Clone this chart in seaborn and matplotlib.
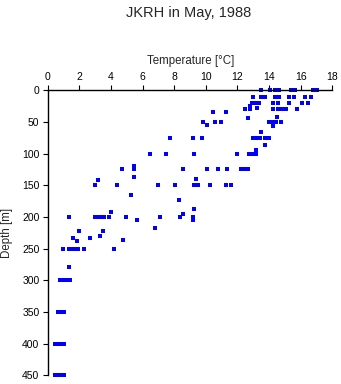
import numpy as np
import pandas as pd
import matplotlib
matplotlib.use("Agg")
import matplotlib.pyplot as plt
import seaborn as sns

# Depth levels [m] and the temperatures [°C] observed at each level
depth_levels = [0, 10, 20, 24, 28, 30, 35, 42, 43, 50, 54, 57, 66, 75, 87, 94, 100,
                119, 125, 137, 140, 142, 150, 165, 173, 187, 192, 195, 200, 203, 205,
                217, 222, 230, 233, 236, 238, 250, 279, 300, 350, 400, 450]
temps_at_level = [
    [13.49, 14.08, 14.4, 14.65, 15.37, 15.64, 16.8, 17.03],
    [13.0, 13.5, 13.75, 14.35, 14.6, 15.28, 15.6, 16.3, 16.67],
    [12.94, 13.1, 13.37, 14.25, 14.59, 15.28, 16.08, 16.48],
    [12.8],
    [13.26],
    [12.48, 12.8, 14.27, 14.57, 14.84, 15.07, 15.79],
    [10.48, 11.3],
    [14.48],
    [12.69],
    [9.79, 10.6, 10.98, 14.0, 14.2, 14.45, 14.78],
    [10.08],
    [14.27],
    [13.49],
    [7.72, 9.17, 9.78, 13.0, 13.2, 13.45, 13.72, 13.98],
    [13.77],
    [13.2],
    [6.49, 7.48, 9.27, 11.95, 12.7, 12.85, 13.0, 13.2],
    [5.48],
    [4.7, 5.48, 8.58, 10.1, 10.79, 11.32, 12.2, 12.45, 12.69],
    [5.48],
    [9.4],
    [3.2],
    [2.97, 4.38, 7.0, 8.07, 9.27, 9.5, 10.29, 11.3, 11.6],
    [5.29],
    [8.28],
    [9.27],
    [3.98],
    [8.58],
    [1.37, 2.99, 3.14, 3.31, 3.58, 3.9, 4.97, 7.1, 8.39, 9.17],
    [9.17],
    [9.17, 5.67],
    [6.8],
    [2.0, 3.5],
    [3.29],
    [1.58, 2.7],
    [4.78],
    [1.83],
    [0.99, 1.35, 1.5, 1.65, 1.8, 1.94, 2.32, 4.21],
    [1.37],
    [0.8, 0.92, 1.04, 1.16, 1.28, 1.4],
    [0.65, 0.77, 0.89, 1.0],
    [0.48, 0.6, 0.72, 0.84, 0.96, 1.02],
    [0.48, 0.6, 0.72, 0.84, 0.96, 1.02],
]

x_ticks = [0, 2, 4, 6, 8, 10, 12, 14, 16, 18]
y_ticks = [0, 50, 100, 150, 200, 250, 300, 350, 400, 450]

rows = []
for d, ts in zip(depth_levels, temps_at_level):
    for t in ts:
        rows.append({"Temperature": t, "Depth": d})
df = pd.DataFrame(rows)

sns.set_style("white")
plt.rcParams['font.family'] = ['Liberation Sans', 'DejaVu Sans']

fig = plt.figure(figsize=(3.41, 3.84), dpi=100)
ax = fig.add_axes([0.140, 0.0227, 0.8345, 0.7421])

sns.scatterplot(data=df, x="Temperature", y="Depth", ax=ax, marker="s", s=6,
                color="#0000ff", linewidth=0, clip_on=False, legend=False)

ax.set_xlim(0, 18)
ax.set_ylim(450, 0)
ax.set_xticks(x_ticks)
ax.set_yticks(y_ticks)
ax.xaxis.tick_top()
ax.xaxis.set_label_position("top")

for side in ["right", "bottom"]:
    ax.spines[side].set_visible(False)
for side in ["top", "left"]:
    ax.spines[side].set_color("black")
    ax.spines[side].set_linewidth(1.0)

ax.tick_params(axis="both", direction="out", length=3.5, width=0.8, colors="black",
               labelsize=7.5, pad=2.5)
ax.tick_params(axis="x", top=True, bottom=False)
ax.tick_params(axis="y", left=True, right=False)

ax.set_xlabel("Temperature [\u00b0C]", fontsize=8.3)
ax.set_ylabel("Depth [m]", fontsize=8.3)
ax.xaxis.label.set_va("center")
ax.yaxis.label.set_va("center")
ax.xaxis.set_label_coords(0.503, 1.103)
ax.yaxis.set_label_coords(-0.144, 0.5)

fig.text(0.553, 0.966, "JKRH in May, 1988", ha="center", va="center", fontsize=10.5)

fig.savefig("out.png", dpi=100)
